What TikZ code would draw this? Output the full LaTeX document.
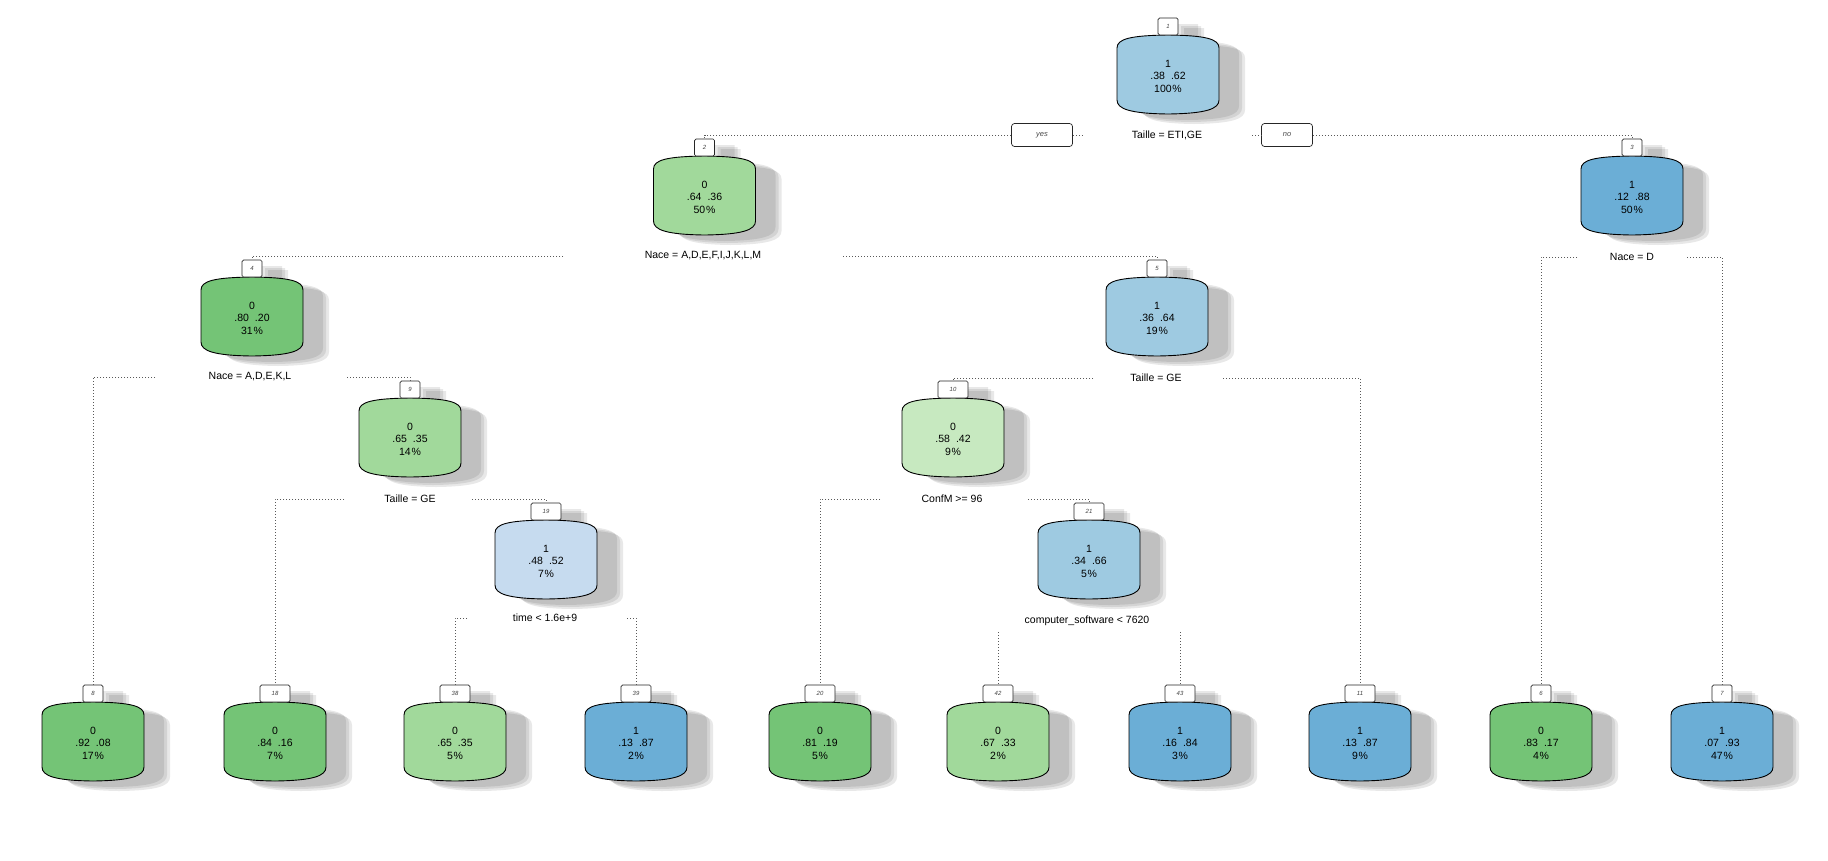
\documentclass[tikz,border=0pt]{standalone}
\usepackage{fontspec}
\setmainfont{Liberation Sans}
\pgfdeclarelayer{background}
\pgfsetlayers{background,main}
\definecolor{dgreen}{RGB}{116,196,118}
\definecolor{mgreen}{RGB}{161,217,155}
\definecolor{lgreen}{RGB}{199,233,192}
\definecolor{lblue}{RGB}{198,219,239}
\definecolor{mblue}{RGB}{158,202,225}
\definecolor{dblue}{RGB}{107,174,214}
\tikzset{
  nodetext/.style={align=center, inner sep=0pt, font=\fontsize{10.5}{12.5}\selectfont},
  tagbox/.style={draw=black!85, fill=white, rounded corners=1.5pt, minimum height=17pt, inner sep=0pt, line width=0.7pt, font=\fontsize{6}{6}\selectfont\itshape, text=black!75},
  ynbox/.style={draw=black!85, fill=white, rounded corners=3pt, minimum height=23pt, inner sep=0pt, line width=0.7pt, font=\fontsize{7.5}{7.5}\selectfont\itshape, text=black!70},
  lab/.style={inner sep=0pt, font=\fontsize{10.5}{12.5}\selectfont},
  branch/.style={draw=black!65, line width=0.7pt, dash pattern=on 0.7pt off 2.3pt},
  boxline/.style={draw=black, line width=0.9pt},
}
\newcommand\treenode[7]{%
  \node[nodetext] (#1) at (#2,#3+41) {#7};
  \node[tagbox, minimum width=#5pt] (t#1) at (#2,#3-8.5) {#4};
  \begin{pgfonlayer}{background}
    \foreach \dx/\dy in {26/10, 23/8, 20/6}{
      \fill[black, opacity=0.09, shift={(\dx,\dy)}]
        (#2-51,#3+13) .. controls (#2-51,#3+4) and (#2-38,#3+0.5) .. (#2,#3)
        .. controls (#2+38,#3+0.5) and (#2+51,#3+4) .. (#2+51,#3+13)
        -- (#2+51,#3+65) .. controls (#2+51,#3+74) and (#2+38,#3+78.5) .. (#2,#3+79)
        .. controls (#2-38,#3+78.5) and (#2-51,#3+74) .. (#2-51,#3+65) -- cycle
        (#2-#5/2,#3-17) rectangle (#2+#5/2,#3);
    }
    \path[boxline, fill=#6]
        (#2-51,#3+13) .. controls (#2-51,#3+4) and (#2-38,#3+0.5) .. (#2,#3)
        .. controls (#2+38,#3+0.5) and (#2+51,#3+4) .. (#2+51,#3+13)
        -- (#2+51,#3+65) .. controls (#2+51,#3+74) and (#2+38,#3+78.5) .. (#2,#3+79)
        .. controls (#2-38,#3+78.5) and (#2-51,#3+74) .. (#2-51,#3+65) -- cycle;
  \end{pgfonlayer}}
\newcommand\pr[2]{#1\hspace{6pt}#2}
\begin{document}
\begin{tikzpicture}[x=1pt,y=-1pt]
\useasboundingbox (0,0) rectangle (1828,860);
% inner nodes
\treenode{n1}{1168}{35}{1}{20}{mblue}{1\\\pr{.38}{.62}\\100\kern0.8pt\%}
\treenode{n2}{704.5}{156}{2}{20}{mgreen}{0\\\pr{.64}{.36}\\50\kern0.8pt\%}
\treenode{n3}{1632}{156}{3}{20}{dblue}{1\\\pr{.12}{.88}\\50\kern0.8pt\%}
\treenode{n4}{252}{277}{4}{20}{dgreen}{0\\\pr{.80}{.20}\\31\kern0.8pt\%}
\treenode{n5}{1157}{277}{5}{20}{mblue}{1\\\pr{.36}{.64}\\19\kern0.8pt\%}
\treenode{n9}{410}{398}{9}{20}{mgreen}{0\\\pr{.65}{.35}\\14\kern0.8pt\%}
\treenode{n10}{953}{398}{10}{30}{lgreen}{0\\\pr{.58}{.42}\\9\kern0.8pt\%}
\treenode{n19}{546}{520}{19}{30}{lblue}{1\\\pr{.48}{.52}\\7\kern0.8pt\%}
\treenode{n21}{1089}{520}{21}{30}{mblue}{1\\\pr{.34}{.66}\\5\kern0.8pt\%}
% leaves
\treenode{n8}{93}{702}{8}{20}{dgreen}{0\\\pr{.92}{.08}\\17\kern0.8pt\%}
\treenode{n18}{275}{702}{18}{30}{dgreen}{0\\\pr{.84}{.16}\\7\kern0.8pt\%}
\treenode{n38}{455}{702}{38}{30}{mgreen}{0\\\pr{.65}{.35}\\5\kern0.8pt\%}
\treenode{n39}{636}{702}{39}{30}{dblue}{1\\\pr{.13}{.87}\\2\kern0.8pt\%}
\treenode{n20}{820}{702}{20}{30}{dgreen}{0\\\pr{.81}{.19}\\5\kern0.8pt\%}
\treenode{n42}{998}{702}{42}{30}{mgreen}{0\\\pr{.67}{.33}\\2\kern0.8pt\%}
\treenode{n43}{1180}{702}{43}{30}{dblue}{1\\\pr{.16}{.84}\\3\kern0.8pt\%}
\treenode{n11}{1360}{702}{11}{30}{dblue}{1\\\pr{.13}{.87}\\9\kern0.8pt\%}
\treenode{n6}{1541}{702}{6}{20}{dgreen}{0\\\pr{.83}{.17}\\4\kern0.8pt\%}
\treenode{n7}{1722}{702}{7}{20}{dblue}{1\\\pr{.07}{.93}\\47\kern0.8pt\%}
% split labels
\node[lab] (l1) at (1167,135) {Taille = ETI,GE};
\node[lab] (l2) at (703,256) {Nace = A,D,E,F,I,J,K,L,M};
\node[lab] (l3) at (1632,257) {Nace = D};
\node[lab] (l4) at (250,377) {Nace = A,D,E,K,L};
\node[lab] (l5) at (1156,378) {Taille = GE};
\node[lab] (l9) at (410,499) {Taille = GE};
\node[lab] (l10) at (952,499) {ConfM >= 96};
\node[lab] (l19) at (545,618) {time < 1.6e+9};
\node[lab] (l21) at (1087,621) {computer\_software < 7620};
% yes / no
\node[ynbox, minimum width=61pt] (yes) at (1042,135) {yes};
\node[ynbox, minimum width=51pt] (no) at (1287,135) {no};
% branches
\draw[branch] (yes.west) -| (tn2.north);
\draw[branch] (yes.east) -- ([xshift=-83pt]l1.center);
\draw[branch] ([xshift=85pt]l1.center) -- (no.west);
\draw[branch] (no.east) -| (tn3.north);
\draw[branch] ([xshift=-140pt]l2.center) -| (tn4.north);
\draw[branch] ([xshift=140pt]l2.center) -| (tn5.north);
\draw[branch] ([xshift=-55pt]l3.center) -| (tn6.north);
\draw[branch] ([xshift=55pt]l3.center) -| (tn7.north);
\draw[branch] ([xshift=-95pt]l4.center) -| (tn8.north);
\draw[branch] ([xshift=97pt]l4.center) -| (tn9.north);
\draw[branch] ([xshift=-63pt]l5.center) -| (tn10.north);
\draw[branch] ([xshift=67pt]l5.center) -| (tn11.north);
\draw[branch] ([xshift=-66pt]l9.center) -| (tn18.north);
\draw[branch] ([xshift=62pt]l9.center) -| (tn19.north);
\draw[branch] ([xshift=-72pt]l10.center) -| (tn20.north);
\draw[branch] ([xshift=76pt]l10.center) -| (tn21.north);
\draw[branch] ([xshift=-78pt]l19.center) -| (tn38.north);
\draw[branch] ([xshift=82pt]l19.center) -| (tn39.north);
\draw[branch] ([yshift=-11pt]l21.center -| tn42.north) -- (tn42.north);
\draw[branch] ([yshift=-11pt]l21.center -| tn43.north) -- (tn43.north);
\end{tikzpicture}
\end{document}
